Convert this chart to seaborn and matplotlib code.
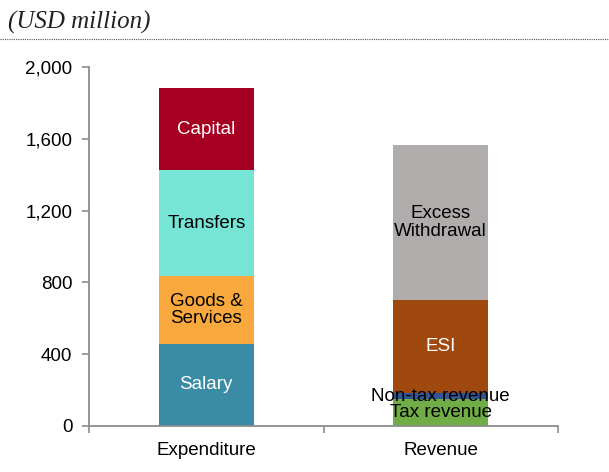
import matplotlib
matplotlib.use("Agg")
import matplotlib.pyplot as plt
import matplotlib.ticker as mticker
from matplotlib.lines import Line2D
import seaborn as sns
import numpy as np

# ---- data ----
categories = ["Expenditure", "Revenue"]
exp_labels = ["Salary", "Goods &\nServices", "Transfers", "Capital"]
exp_values = [456, 379, 592, 457]
rev_labels = ["Tax revenue", "Non-tax revenue", "ESI", "Excess\nWithdrawal"]
rev_values = [147, 34, 520, 865]
exp_colors = ["#3A8BA5", "#F9A83E", "#76E5D6", "#A50021"]
rev_colors = ["#70AD47", "#2F5597", "#A0490E", "#B0ACAB"]
exp_text_colors = ["white", "black", "black", "white"]
rev_text_colors = ["black", "black", "white", "black"]
yticks = [0, 400, 800, 1200, 1600, 2000]

sns.set_theme(style="white")
plt.rcParams["font.family"] = ["Liberation Sans", "DejaVu Sans"]

FS = 13.5

fig = plt.figure(figsize=(6.09, 4.72), dpi=100)
ax = fig.add_axes([89/609, 1 - 425.7/472, (558 - 89)/609, (425.7 - 67.3)/472])

exp_cum = np.cumsum(exp_values)
rev_cum = np.cumsum(rev_values)

# draw from top layer down so lower layers overpaint (stacked effect)
for k in range(len(exp_values) - 1, -1, -1):
    sns.barplot(x=categories, y=[exp_cum[k], rev_cum[k]], hue=categories,
                palette=[exp_colors[k], rev_colors[k]], legend=False,
                width=0.405, saturation=1, ax=ax, linewidth=0)

# segment labels
for k in range(len(exp_values)):
    bottom = exp_cum[k] - exp_values[k]
    ax.text(0, bottom + exp_values[k] / 2, exp_labels[k], ha="center", va="center",
            color=exp_text_colors[k], fontsize=FS, linespacing=1.07)
    bottom = rev_cum[k] - rev_values[k]
    ax.text(1, bottom + rev_values[k] / 2, rev_labels[k], ha="center", va="center",
            color=rev_text_colors[k], fontsize=FS, linespacing=1.07)

ax.set_xlim(-0.5, 1.5)
ax.set_ylim(0, 2000)
ax.set_yticks(yticks)
ax.yaxis.set_major_formatter(mticker.FuncFormatter(lambda v, p: f"{int(v):,}"))
ax.set_xlabel("")
ax.set_ylabel("")

for s in ["top", "right"]:
    ax.spines[s].set_visible(False)
for s in ["left", "bottom"]:
    ax.spines[s].set_color("#8C8C8C")
    ax.spines[s].set_linewidth(1.3)

ax.tick_params(axis="y", which="major", direction="out", length=5, width=1.2,
               color="#8C8C8C", labelsize=FS, labelcolor="black", pad=7, left=True)
ax.tick_params(axis="x", which="major", length=0, labelsize=FS, labelcolor="black", pad=12)
ax.set_xticks([-0.5, 0.5, 1.5], minor=True)
ax.tick_params(axis="x", which="minor", direction="out", length=5, width=1.2,
               color="#8C8C8C", bottom=True)

# title and dotted rule
fig.text(8/609, 1 - 22/472, "(USD million)", fontsize=18, style="italic",
         family=["Liberation Serif", "DejaVu Serif"], va="center", ha="left", color="#222222")
fig.add_artist(Line2D([0, 1], [1 - 39/472, 1 - 39/472], transform=fig.transFigure,
                      color="#555555", linestyle=(0, (1, 1)), linewidth=0.8))

fig.savefig("out.png", dpi=100)
